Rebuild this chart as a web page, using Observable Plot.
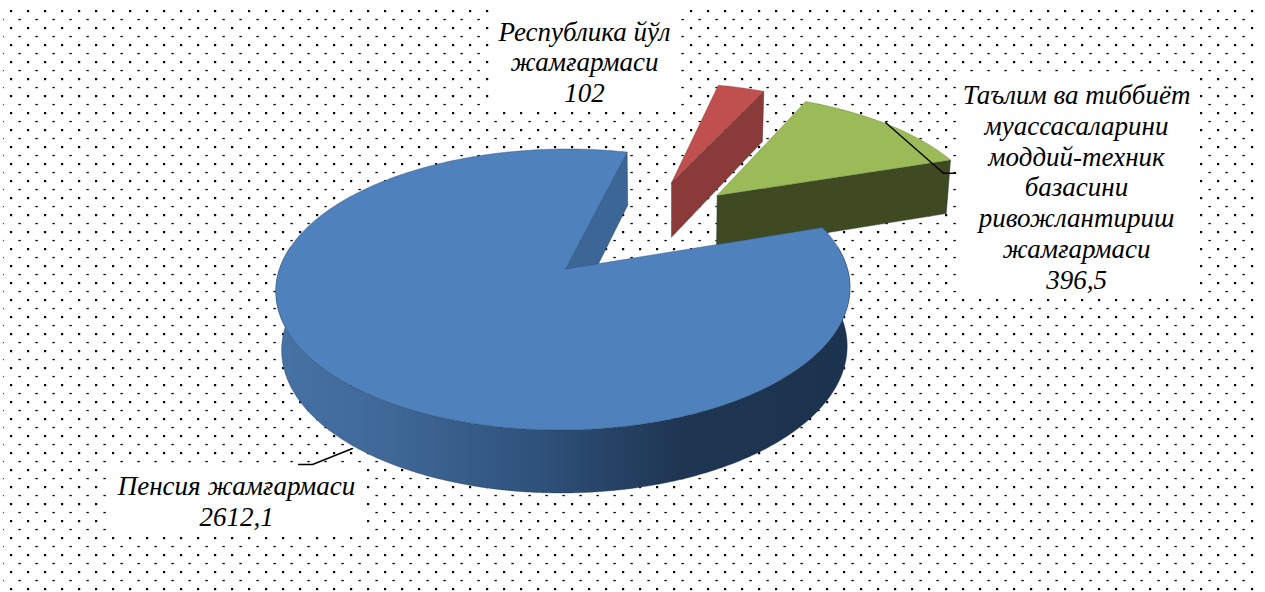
<!DOCTYPE html>
<html><head><meta charset="utf-8">
<script src="https://cdn.jsdelivr.net/npm/d3@7"></script>
<script src="https://cdn.jsdelivr.net/npm/@observablehq/plot@0.6"></script>
<style>html,body{margin:0;padding:0;background:#fff;overflow:hidden}svg{display:block}</style>
</head><body><div id="chart"></div>
<script>
const categories = ["Пенсия жамғармаси", "Республика йўл\nжамғармаси", "Таълим ва тиббиёт\nмуассасаларини\nмоддий-техник\nбазасини\nривожлантириш\nжамғармаси"];
const values = [2612.1, 102, 396.5];
const valueLabels = ["2612,1", "102", "396,5"];

// layout and style
const W = 1265, H = 592;
const topColors = ["#4f81bd", "#c0504d", "#9bbb59"];
const sideColors = ["#3c6695", "#8a3a38", "#3f4a22"];
const explode = [[0, 0], [0.408, -0.69], [0.578, -0.58]];
const apexNudge = [0.007, 0, 0];
const cx = 563, cy = 268.5, R = 284, K = 137.5, P = 0.146, D = 58, SHEAR = 4;
const labelAt = [[236, 500], [584, 61], [1076, 186]];
const boxes = [[109, 466, 363, 533], [490, 0, 679, 108], [958, 74, 1196, 296]];
const leaders = [[[298, 464], [312, 464], [352, 448]], [], [[885, 122], [943, 172.7], [955, 172.7]]];

function project(u, v, z) {
  const s = 1 / (1 - P * v);
  return {x: cx + R * u * s * (1 - 0.015 * z) - SHEAR * v + 1.5 * z, y: cy + K * v * s + z * D * (1 + 0.086 * v)};
}
const arcs = d3.pie().sort(null).startAngle(71.6 * Math.PI / 180).endAngle((71.6 + 360) * Math.PI / 180)(values);
const rim = (a, e, z) => project(e[0] + Math.sin(a), e[1] - Math.cos(a), z);
const apex = (i, z) => project(explode[i][0] + apexNudge[i], explode[i][1], z);
function arcAngles(s) {
  const n = Math.max(2, Math.ceil((s.endAngle - s.startAngle) / 0.01));
  return d3.range(n + 1).map(i => s.startAngle + (s.endAngle - s.startAngle) * i / n);
}
const tops = arcs.map((s, i) => {
  const c = apex(i, 0);
  return [c, ...arcAngles(s).map(a => rim(a, explode[i], 0)), c];
});
// the radial cut wall at each slice's visible edge
const cutWall = (i, a) => {
  const e = explode[i];
  return [apex(i, 0), rim(a, e, 0), rim(a, e, 1), apex(i, 1), apex(i, 0)];
};
// the rim wall, only on the side that faces the viewer
const outerWall = i => {
  const e = explode[i];
  const as = arcAngles(arcs[i]).filter(a => Math.cos(a) < 0.17);
  return [...as.map(a => rim(a, e, 0)), ...as.slice().reverse().map(a => rim(a, e, 1)), rim(as[0], e, 0)];
};
const wall = (pts, fill) => Plot.line(pts, {x: "x", y: "y", fill, stroke: "#1d2f45", strokeWidth: 0.6, strokeOpacity: 0.6, curve: "linear"});
const face = (pts, fill, stroke) => Plot.line(pts, {x: "x", y: "y", fill, stroke, strokeWidth: 0.6, strokeOpacity: 0.7, curve: "linear"});

const defs = () => {
  const d = d3.create("svg:defs");
  const p = d.append("pattern").attr("id", "dots").attr("patternUnits", "userSpaceOnUse").attr("width", 17).attr("height", 17);
  p.append("rect").attr("x", 10).attr("y", 10).attr("width", 2.2).attr("height", 2.2).attr("fill", "#000");
  p.append("rect").attr("x", 1.4).attr("y", 1.9).attr("width", 2.4).attr("height", 1.3).attr("fill", "#000");
  const g = d.append("linearGradient").attr("id", "wallGrad").attr("gradientUnits", "userSpaceOnUse")
    .attr("x1", 275).attr("x2", 851).attr("y1", 0).attr("y2", 0);
  [[0, "#4672a5"], [0.2, "#3f6897"], [0.45, "#2f527c"], [0.7, "#1f3653"], [1, "#1c3350"]]
    .forEach(([o, c]) => g.append("stop").attr("offset", o).attr("stop-color", c));
  return d.node();
};

const plot = Plot.plot({
  width: W, height: H, margin: 0,
  x: {domain: [0, W], range: [0, W], axis: null},
  y: {domain: [0, H], range: [0, H], axis: null},
  marks: [
    defs,
    Plot.rect([[3, 5, 1258, 592]], {x1: d => d[0], y1: d => d[1], x2: d => d[2], y2: d => d[3], fill: "url(#dots)"}),
    Plot.rect(boxes, {x1: d => d[0], y1: d => d[1], x2: d => d[2], y2: d => d[3], fill: "white"}),
    wall(cutWall(1, arcs[1].endAngle), sideColors[1]),
    face(tops[1], topColors[1], "#7f3331"),
    wall(cutWall(2, arcs[2].endAngle), sideColors[2]),
    face(tops[2], topColors[2], "#5d7035"),
    wall(cutWall(0, arcs[0].endAngle), sideColors[0]),
    wall(outerWall(0), "url(#wallGrad)"),
    face(tops[0], topColors[0], "#2b4a70"),
    ...leaders.filter(l => l.length).map(l => Plot.line(l, {x: d => d[0], y: d => d[1], stroke: "#000", strokeWidth: 1.4, curve: "linear"})),
    Plot.text(categories.map((c, i) => ({t: c + "\n" + valueLabels[i], x: labelAt[i][0], y: labelAt[i][1]})), {
      x: "x", y: "y", text: "t", lineAnchor: "middle", lineHeight: 1.14, textAnchor: "middle",
      fontFamily: "'Liberation Serif', serif", fontStyle: "italic", fontSize: 27, fill: "#000"
    })
  ]
});
document.getElementById("chart").append(plot);
</script></body></html>
